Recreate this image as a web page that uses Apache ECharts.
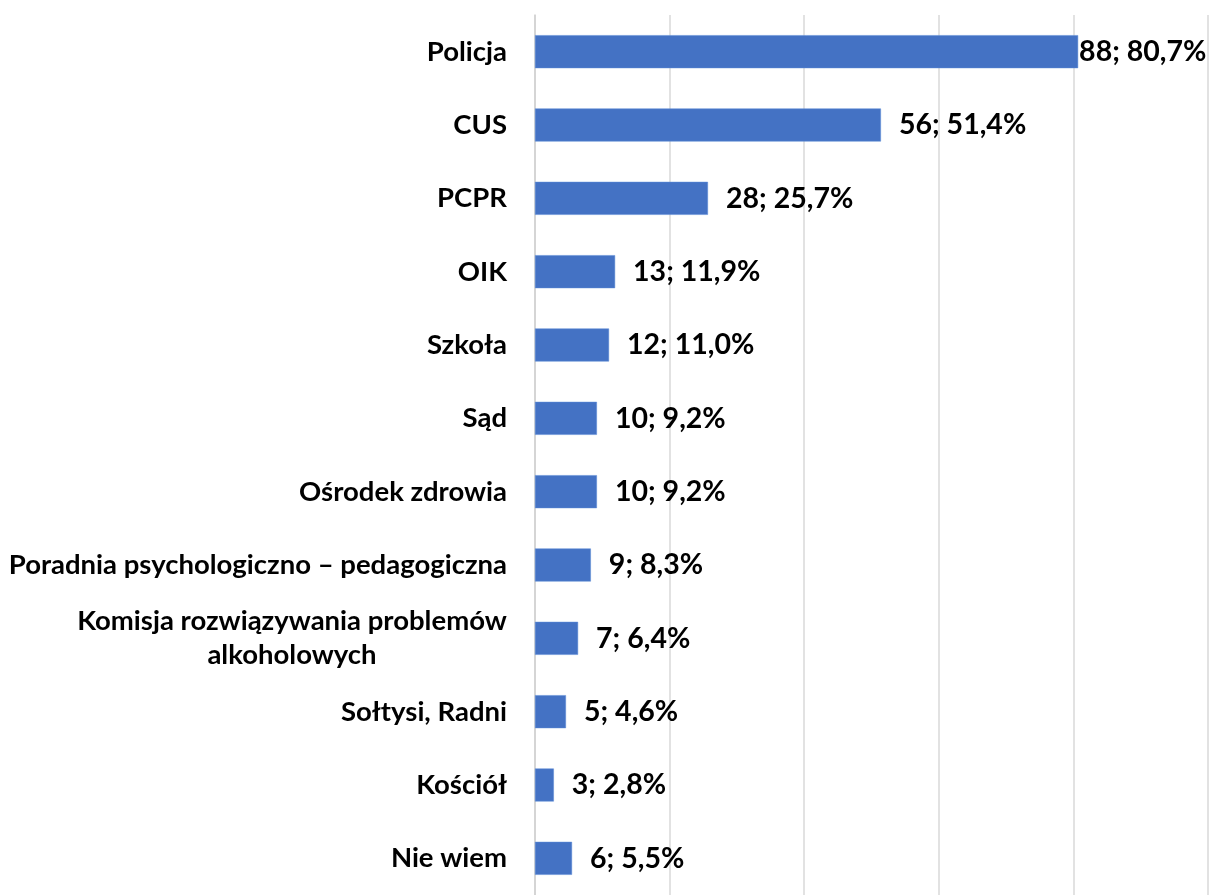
<!DOCTYPE html>
<html>
<head>
<meta charset="utf-8">
<script src="https://cdn.jsdelivr.net/npm/echarts@6/dist/echarts.min.js"></script>
<style>
  html, body { margin: 0; padding: 0; background: #fff; }
  #chart { width: 1211px; height: 895px; }
</style>
</head>
<body>
<div id="chart"></div>
<script>
const categories = [
  'Policja', 'CUS', 'PCPR', 'OIK', 'Szkoła', 'Sąd', 'Ośrodek zdrowia',
  'Poradnia psychologiczno – pedagogiczna',
  'Komisja rozwiązywania problemów\nalkoholowych',
  'Sołtysi, Radni', 'Kościół', 'Nie wiem'
]
const counts = [88, 56, 28, 13, 12, 10, 10, 9, 7, 5, 3, 6]
const percents = [80.7, 51.4, 25.7, 11.9, 11.0, 9.2, 9.2, 8.3, 6.4, 4.6, 2.8, 5.5]
const xTicks = [0, 20, 40, 60, 80, 100]

const FONT = 'Lato, "Open Sans", sans-serif'
const FS = 27.5
const VFS = 28.5

// width of the longer line so the second line can be centred under it
function textWidth (s) {
  const ctx = document.createElement('canvas').getContext('2d')
  ctx.font = 'bold ' + FS + 'px ' + FONT
  return Math.ceil(ctx.measureText(s).width)
}

const chart = echarts.init(document.getElementById('chart'))

const option = {
  animation: false,
  grid: { left: 535, top: 15, width: 673, height: 886, containLabel: false },
  xAxis: {
    type: 'value',
    min: xTicks[0],
    max: xTicks[xTicks.length - 1],
    interval: xTicks[1] - xTicks[0],
    axisLabel: { show: false },
    axisLine: { show: false },
    axisTick: { show: false },
    splitLine: { lineStyle: { color: '#d9d9d9', width: 1.5 } }
  },
  yAxis: {
    type: 'category',
    inverse: true,
    data: categories,
    axisLine: { lineStyle: { color: '#d0d0d0', width: 1.5 } },
    axisTick: { length: 9, lineStyle: { color: '#d0d0d0', width: 1.5 } },
    axisLabel: {
      margin: 28,
      color: '#000',
      fontFamily: FONT,
      fontWeight: 'bold',
      fontSize: FS,
      lineHeight: 34,
      formatter: function (v) {
        if (v.indexOf('\n') < 0) return v
        return v.split('\n').map(l => '{c|' + l + '}').join('\n')
      },
      rich: {
        c: {
          width: textWidth('Komisja rozwiązywania problemów'),
          align: 'center',
          fontFamily: FONT,
          fontWeight: 'bold',
          fontSize: FS,
          lineHeight: 34,
          color: '#000'
        }
      }
    }
  },
  series: [
    {
      type: 'bar',
      barWidth: '45%',
      itemStyle: { color: '#4472c4', borderColor: '#5b8ad6', borderWidth: 0.5 },
      label: {
        show: true,
        position: 'right',
        distance: 18,
        color: '#000',
        fontFamily: FONT,
        fontWeight: 'bold',
        fontSize: VFS,
        formatter: function (p) {
          return counts[p.dataIndex] + '; ' + percents[p.dataIndex].toFixed(1).replace('.', ',') + '%'
        }
      },
      data: percents.map((v, i) => i === 0 ? { value: v, label: { distance: 1 } } : v)
    }
  ]
}

chart.setOption(option)
</script>
</body>
</html>
